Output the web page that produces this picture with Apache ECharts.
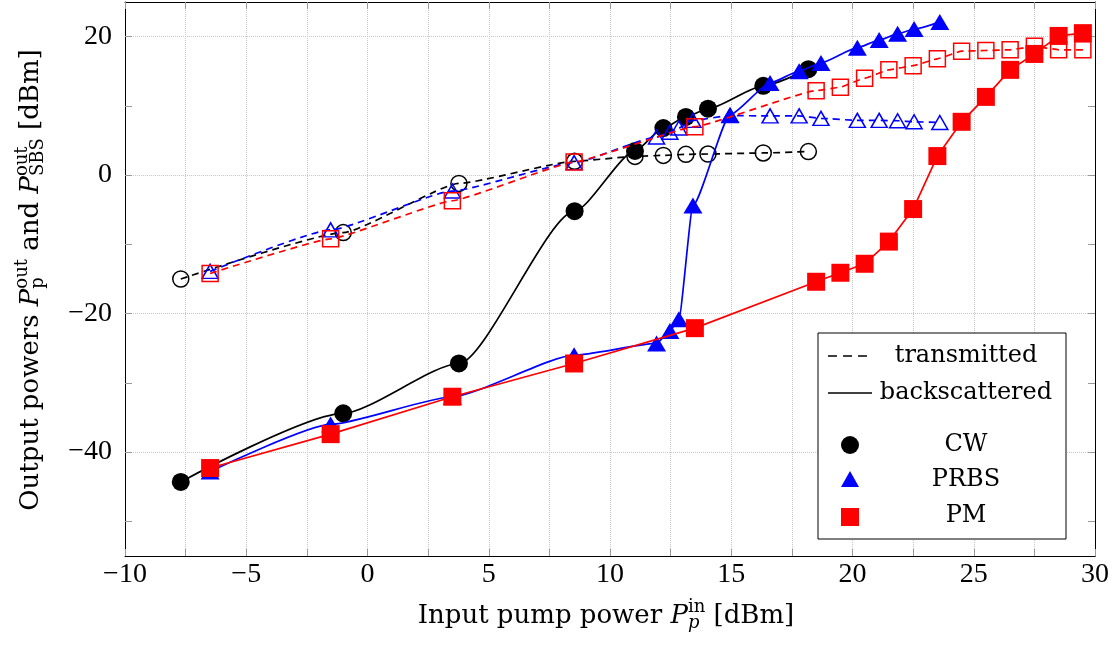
<!DOCTYPE html>
<html>
<head>
<meta charset="utf-8">
<title>SBS output powers</title>
<script src="https://cdn.jsdelivr.net/npm/echarts@6/dist/echarts.min.js"></script>
<style>
	html, body { margin: 0; padding: 0; background: #fff; }
	#chart { width: 1116px; height: 646px; }
</style>
</head>
<body>
<div id="chart"></div>
<script>
// 数据 (dBm)
var cwX      = [-7.7, -1.0, 3.77, 8.54, 11.03, 12.2, 13.13, 14.04, 16.32, 18.18];
var cwBack   = [-44.3, -34.4, -27.2, -5.2, 3.5, 6.8, 8.4, 9.6, 12.9, 15.3];
var cwTrans  = [-15.0, -8.3, -1.2, 2.0, 2.7, 2.85, 3.0, 3.05, 3.2, 3.4];

var prbsX     = [-6.49, -1.52, 3.5, 8.52, 11.92, 12.47, 12.84, 13.42, 14.95, 16.6, 17.8, 18.7, 20.2, 21.1, 21.86, 22.54, 23.6];
var prbsBack  = [-42.8, -36.0, -32.0, -26.0, -24.3, -22.5, -20.8, -4.4, 8.7, 13.3, 15.0, 16.2, 18.4, 19.5, 20.4, 21.1, 22.1];
var prbsTrans = [-13.9, -7.9, -2.3, 1.8, 5.5, 6.2, 6.8, 7.9, 8.6, 8.55, 8.55, 8.2, 7.9, 7.9, 7.85, 7.7, 7.6];

var pmX     = [-6.49, -1.52, 3.5, 8.52, 13.5, 18.5, 19.5, 20.5, 21.5, 22.5, 23.5, 24.5, 25.5, 26.5, 27.5, 28.5, 29.5];
var pmBack  = [-42.3, -37.4, -32.0, -27.2, -22.1, -15.4, -14.1, -12.8, -9.6, -4.9, 2.75, 7.7, 11.3, 15.2, 17.5, 20.1, 20.5];
var pmTrans = [-14.2, -9.2, -3.7, 1.9, 7.0, 12.2, 12.7, 14.0, 15.2, 15.8, 16.8, 17.9, 18.0, 18.1, 18.6, 18.1, 18.1];

var xTickLabels = [-10, -5, 0, 5, 10, 15, 20, 25, 30];
var yTickLabels = [-40, -20, 0, 20];
var yTicks      = [-50, -40, -30, -20, -10, 0, 10, 20];

var tickFont = 'Liberation Serif';
var nameFont = 'DejaVu Serif';

function pairs(xs, ys) {
	return xs.map(function (x, i) { return [x, ys[i]]; });
}
function fmt(v) {
	return v < 0 ? '\u2212' + (-v) : String(v);
}

// 文字宽度
var ctx = document.createElement('canvas').getContext('2d');
function measure(t, size, italic) {
	ctx.font = (italic ? 'italic ' : '') + size + 'px "' + nameFont + '"';
	return ctx.measureText(t).width;
}
function txt(t, x, y, size, italic) {
	return {
		type: 'text', x: x, y: y,
		style: {
			text: t, fill: '#000', align: 'left', verticalAlign: 'middle',
			font: (italic ? 'italic ' : '') + size + 'px "' + nameFont + '"'
		}
	};
}
// 带上下标的轴标题
function buildName(parts, size) {
	var kids = [], x = 0, small = Math.round(size * 0.68);
	parts.forEach(function (p) {
		if (p.sup !== undefined) {
			var w = Math.max(measure(p.sup, small, p.supI), measure(p.sub, small, p.subI));
			kids.push(txt(p.sup, x, -size * 0.33, small, p.supI));
			kids.push(txt(p.sub, x, size * 0.3, small, p.subI));
			x += w;
		} else {
			kids.push(txt(p.t, x, 0, size, p.i));
			x += measure(p.t, size, p.i);
		}
	});
	kids.forEach(function (k) { k.x -= x / 2; });
	return kids;
}

var xName = buildName([
	{t: 'Input pump power '}, {t: 'P', i: true}, {sup: 'in', sub: 'p', subI: true}, {t: ' [dBm]'}
], 26);
var yName = buildName([
	{t: 'Output powers '}, {t: 'P', i: true}, {sup: 'out', sub: 'p'}, {t: ' and '},
	{t: 'P', i: true}, {sup: 'out', sub: 'SBS'}, {t: ' [dBm]'}
], 26);

function lineSeries(name, data, opt) {
	return {
		name: name, type: 'line', data: data,
		symbol: opt.symbol, symbolSize: opt.size,
		smooth: opt.smooth, smoothMonotone: 'x',
		itemStyle: opt.hollow
			? {color: 'rgba(0,0,0,0)', borderColor: opt.color, borderWidth: 1.5}
			: {color: opt.color, borderWidth: 0},
		lineStyle: {color: opt.color, width: 1.7, type: opt.dash ? [7, 5] : 'solid'},
		emphasis: {disabled: true},
		z: opt.z
	};
}

var axisLineStyle = {show: true, onZero: false, lineStyle: {color: '#000', width: 1}};
var tickStyle = {show: true, inside: true, length: 7, lineStyle: {color: '#999', width: 1}};

// 图例
var legFont = '24px "' + nameFont + '"';
function legText(t, y) {
	return {type: 'text', x: 966, y: y, z: 101, style: {text: t, font: legFont, fill: '#000', align: 'center', verticalAlign: 'middle'}};
}
var legendItems = [
	{type: 'rect', z: 100, shape: {x: 818, y: 333, width: 248, height: 206}, style: {fill: '#fff', stroke: '#000', lineWidth: 1}},
	{type: 'line', z: 101, shape: {x1: 828, y1: 356, x2: 868, y2: 356}, style: {stroke: '#000', lineWidth: 1.6, lineDash: [9, 6]}},
	{type: 'line', z: 101, shape: {x1: 828, y1: 393, x2: 872, y2: 393}, style: {stroke: '#000', lineWidth: 1.6}},
	legText('transmitted', 356),
	legText('backscattered', 393),
	{type: 'circle', z: 101, shape: {cx: 850, cy: 445, r: 9}, style: {fill: '#000'}},
	{type: 'polygon', z: 101, shape: {points: [[841, 487], [859, 487], [850, 471]]}, style: {fill: '#0000ff'}},
	{type: 'rect', z: 101, shape: {x: 841, y: 508, width: 18, height: 18}, style: {fill: '#ff0000'}},
	legText('CW', 445),
	legText('PRBS', 480),
	legText('PM', 516)
];

var myChart = echarts.init(document.getElementById('chart'));
myChart.setOption({
	animation: false,
	backgroundColor: '#fff',
	grid: {left: 125, right: 21, top: 2, bottom: 90},
	xAxis: [
		{
			type: 'value', min: -10, max: 30, interval: 2.5, position: 'bottom',
			axisLine: axisLineStyle, axisTick: tickStyle,
			axisLabel: {
				color: '#000', fontFamily: tickFont, fontSize: 28, margin: 5,
				customValues: xTickLabels,
				formatter: function (v) { return v % 5 === 0 ? fmt(v) : ''; }
			},
			splitLine: {show: true, lineStyle: {color: '#c8c8c8', type: 'dotted', width: 1}}
		},
		{
			type: 'value', min: -10, max: 30, interval: 2.5, position: 'top',
			axisLine: axisLineStyle, axisTick: tickStyle,
			axisLabel: {show: false}, splitLine: {show: false}
		}
	],
	yAxis: [
		{
			type: 'value', min: -55, max: 25, interval: 5, position: 'left',
			axisLine: axisLineStyle,
			axisTick: {show: true, inside: true, length: 7, lineStyle: {color: '#999', width: 1}, customValues: yTicks},
			axisLabel: {
				color: '#000', fontFamily: tickFont, fontSize: 28, margin: 13,
				customValues: yTickLabels,
				formatter: function (v) { return v % 20 === 0 ? fmt(v) : ''; }
			},
			splitLine: {show: true, lineStyle: {color: ['rgba(0,0,0,0)', '#c8c8c8'], type: 'dotted', width: 1}}
		},
		{
			type: 'value', min: -55, max: 25, interval: 5, position: 'right',
			axisLine: axisLineStyle,
			axisTick: {show: true, inside: true, length: 7, lineStyle: {color: '#999', width: 1}, customValues: yTicks},
			axisLabel: {show: false}, splitLine: {show: false}
		}
	],
	series: [
		lineSeries('CW transmitted', pairs(cwX, cwTrans), {symbol: 'circle', size: 16, color: '#000', hollow: true, dash: true, smooth: 0.15, z: 2}),
		lineSeries('CW backscattered', pairs(cwX, cwBack), {symbol: 'circle', size: 18, color: '#000', smooth: 0.22, z: 3}),
		lineSeries('PRBS transmitted', pairs(prbsX, prbsTrans), {symbol: 'triangle', size: [16, 14], color: '#0000ff', hollow: true, dash: true, smooth: 0.15, z: 4}),
		lineSeries('PRBS backscattered', pairs(prbsX, prbsBack), {symbol: 'triangle', size: [19, 16], color: '#0000ff', smooth: 0.18, z: 5}),
		lineSeries('PM transmitted', pairs(pmX, pmTrans), {symbol: 'rect', size: 16, color: '#ff0000', hollow: true, dash: true, smooth: 0.1, z: 6}),
		lineSeries('PM backscattered', pairs(pmX, pmBack), {symbol: 'rect', size: 18, color: '#ff0000', smooth: false, z: 7})
	],
	graphic: [
		{type: 'group', x: 606, y: 616, children: xName},
		{type: 'group', x: 31, y: 280, rotation: Math.PI / 2, children: yName}
	].concat(legendItems)
});
</script>
</body>
</html>
